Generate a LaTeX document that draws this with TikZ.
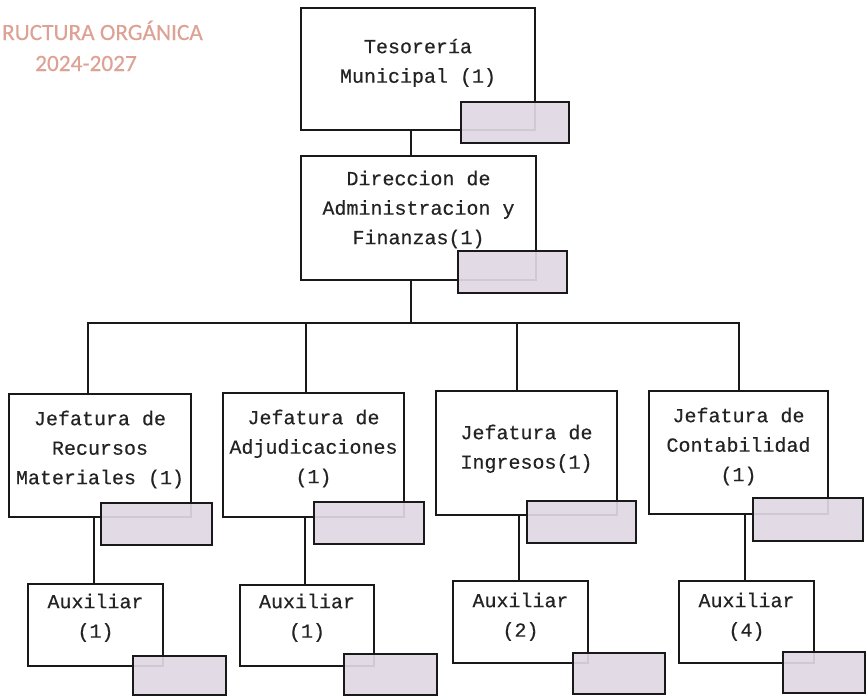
\documentclass[tikz,border=0pt]{standalone}
\usepackage{fontspec}
\setmainfont[FakeBold=0.35]{Liberation Mono}
\newfontfamily\titlefont[FakeBold=0.3]{Carlito}

\definecolor{inkcol}{RGB}{25,25,25}
\definecolor{txtcol}{RGB}{35,35,35}
\definecolor{tagfill}{RGB}{224,216,228}
\definecolor{titlecol}{RGB}{222,162,148}

\tikzset{
  unitbox/.style={draw=inkcol, line width=1.7pt, inner sep=0pt, outer sep=0pt},
  tagbox/.style={draw=inkcol, line width=1.7pt, fill=tagfill, fill opacity=0.92,
                 inner sep=0pt, outer sep=0pt},
  boxtext/.style={font=\fontsize{20}{29.5}\selectfont, text=txtcol, align=center, inner sep=0pt},
  link/.style={draw=inkcol, line width=1.5pt},
  titlestyle/.style={font=\titlefont\fontsize{23.3}{28}\selectfont, text=titlecol, inner sep=0pt}
}

% unit box: name, x1, y1, x2, y2, first baseline, text
\newcommand\orgunit[7]{%
  \node[unitbox, minimum width={#4-#2}, minimum height={#5-#3}]
    (#1) at ({(#2+#4)/2},{(#3+#5)/2}) {};
  \node[boxtext, anchor=north] (#1-txt) at ({(#2+#4)/2},{#6-20.65}) {\strut #7};
}
% grey tag: name, x1, y1, x2, y2
\newcommand\orgtag[5]{%
  \node[tagbox, minimum width={#4-#2}, minimum height={#5-#3}]
    (#1) at ({(#2+#4)/2},{(#3+#5)/2}) {};
}

\begin{document}
\begin{tikzpicture}[x=1pt,y=-1pt]
  \clip (0,0) rectangle (866,696);
  \fill[white] (0,0) rectangle (866,696);

  % heading
  \node[titlestyle, anchor=base east] (ttl1) at (203,40) {RUCTURA ORGÁNICA};
  \node[titlestyle, anchor=base] (ttl2) at (86,71) {2024-2027};

  % units
  \orgunit{tes}{301}{8}{535}{130}{53}{Tesorería\\Municipal (1)}
  \orgunit{dir}{301}{156}{536}{280}{185}{Direccion de\\Administracion y\\Finanzas(1)}
  \orgunit{j1}{9}{394}{191}{517}{425}{Jefatura de\\Recursos\\Materiales (1)}
  \orgunit{j2}{223}{393}{404}{517}{424}{Jefatura de\\Adjudicaciones\\(1)}
  \orgunit{j3}{436}{391}{617}{515}{439}{Jefatura de\\Ingresos(1)}
  \orgunit{j4}{649}{391}{828}{514}{422}{Jefatura de\\Contabilidad\\(1)}
  \orgunit{a1}{28}{584}{163}{666}{608}{Auxiliar\\(1)}
  \orgunit{a2}{240}{585}{374}{666}{608}{Auxiliar\\(1)}
  \orgunit{a3}{453}{581}{588}{663}{607}{Auxiliar\\(2)}
  \orgunit{a4}{679}{581}{814}{663}{607}{Auxiliar\\(4)}

  % connector guide points
  \coordinate (c0) at (411,0);
  \coordinate (bus) at (411,323);
  \coordinate (d1) at (88,0);
  \coordinate (d2) at (306,0);
  \coordinate (d3) at (517,0);
  \coordinate (d4) at (739,0);
  \coordinate (e1) at (94,0);
  \coordinate (e2) at (305,0);
  \coordinate (e3) at (519,0);
  \coordinate (e4) at (745,0);

  % connectors
  \draw[link] (tes.south -| c0) -- (dir.north -| c0);
  \draw[link] (dir.south -| c0) -- (bus);
  \draw[link] (j1.north -| d1) -- (d1 |- bus) -- (d4 |- bus) -- (j4.north -| d4);
  \draw[link] (d2 |- bus) -- (j2.north -| d2);
  \draw[link] (d3 |- bus) -- (j3.north -| d3);
  \draw[link] (j1.south -| e1) -- (a1.north -| e1);
  \draw[link] (j2.south -| e2) -- (a2.north -| e2);
  \draw[link] (j3.south -| e3) -- (a3.north -| e3);
  \draw[link] (j4.south -| e4) -- (a4.north -| e4);

  % grey tags
  \orgtag{tg0}{461}{102}{569}{143}
  \orgtag{tg1}{458}{251}{567}{293}
  \orgtag{tg2}{101}{503}{212}{545}
  \orgtag{tg3}{314}{502}{424}{544}
  \orgtag{tg4}{527}{501}{636}{543}
  \orgtag{tg5}{753}{498}{863}{541}
  \orgtag{tg6}{133}{656}{226}{695}
  \orgtag{tg7}{344}{654}{437}{695}
  \orgtag{tg8}{573}{653}{665}{694}
  \orgtag{tg9}{783}{652}{865}{693}
\end{tikzpicture}
\end{document}
